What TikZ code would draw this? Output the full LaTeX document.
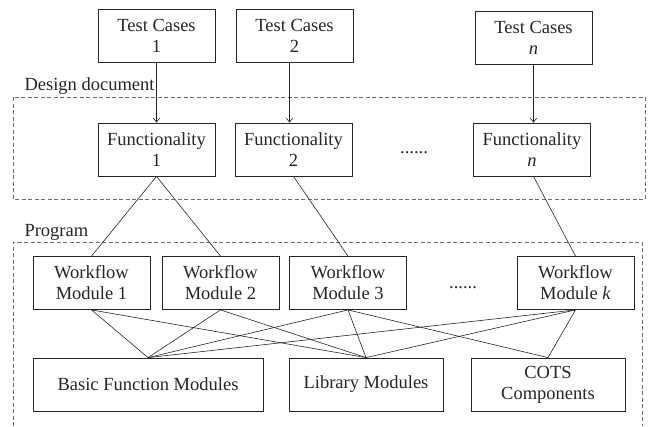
\documentclass[tikz,border=0pt]{standalone}
\usepackage{fontspec}
\setmainfont{Liberation Serif}
\usetikzlibrary{arrows.meta}
\definecolor{ink}{HTML}{262626}
\definecolor{frame}{HTML}{6E6E6E}
\begin{document}
\begin{tikzpicture}[x=1pt,y=-1pt,
  txt/.style={font=\fontsize{18.5}{21}\selectfont, text=ink},
  box/.style={txt, draw=ink, line width=0.8pt, align=center, inner sep=0pt,
              minimum height=53pt},
  narrowbox/.style={box, minimum width=117pt},
  region/.style={draw=frame, line width=0.9pt, dash pattern=on 4pt off 2.5pt},
  link/.style={draw=ink, line width=0.6pt},
  feed/.style={link, -{Straight Barb[length=4pt,width=6.5pt,line width=0.6pt]}}
]
\useasboundingbox (0,0) rectangle (650,426);

% dashed regions
\draw[region] (13,97) rectangle (645,199);
\draw[region] (13,426) |- (642,242) -- (642,426);
\node[txt, anchor=base west] (ddlabel) at (21,90) {Design document};
\node[txt, anchor=base west] (proglabel) at (21,236) {Program};

% test cases
\node[narrowbox] (tc1) at (156.5,35.5) {Test Cases\\1};
\node[narrowbox] (tc2) at (294.5,35.5) {Test Cases\\2};
\node[narrowbox] (tcn) at (533.5,37.5) {Test Cases\\\textit{n}};

% functionalities
\node[narrowbox] (f1) at (156.5,149.5) {Functionality\\1};
\node[narrowbox] (f2) at (293.5,149.5) {Functionality\\2};
\node[narrowbox] (fn) at (532,149.5) {Functionality\\\textit{n}};
\node[txt, anchor=base] (fdots) at (414,153) {......};

% workflow modules
\node[narrowbox] (wm1) at (91.5,283) {Workflow\\Module 1};
\node[narrowbox] (wm2) at (220.5,283) {Workflow\\Module 2};
\node[narrowbox] (wm3) at (348,283) {Workflow\\Module 3};
\node[narrowbox] (wmk) at (575.5,283) {Workflow\\Module \textit{k}};
\node[txt, anchor=base] (wdots) at (463,288) {......};

% base components
\node[box, minimum width=230pt] (bfm) at (148,384.5) {Basic Function Modules};
\node[box, minimum width=154pt] (lib) at (366,384.5) {Library Modules};
\node[box, minimum width=154pt] (cots) at (548,384.5) {COTS\\Components};

% test cases feed functionalities
\draw[feed] (tc1.south) -- (f1.north);
\draw[feed] ([xshift=-5pt]tc2.south) -- ([xshift=-4pt]f2.north);
\draw[feed] (tcn.south) -- ([xshift=1.5pt]fn.north);

% functionalities realised by workflow modules
\draw[link] (f1.south) -- (wm1.north);
\draw[link] (f1.south) -- (wm2.north);
\draw[link] (f2.south) -- (wm3.north);
\draw[link] ([xshift=1.5pt]fn.south) -- (wmk.north);

% workflow modules use base components
\foreach \w in {wm1,wm2,wm3,wmk} {
  \draw[link] (\w.south) -- (bfm.north);
  \draw[link] (\w.south) -- (lib.north);
}
\draw[link] (wm3.south) -- (cots.north);
\draw[link] (wmk.south) -- (cots.north);
\end{tikzpicture}
\end{document}
